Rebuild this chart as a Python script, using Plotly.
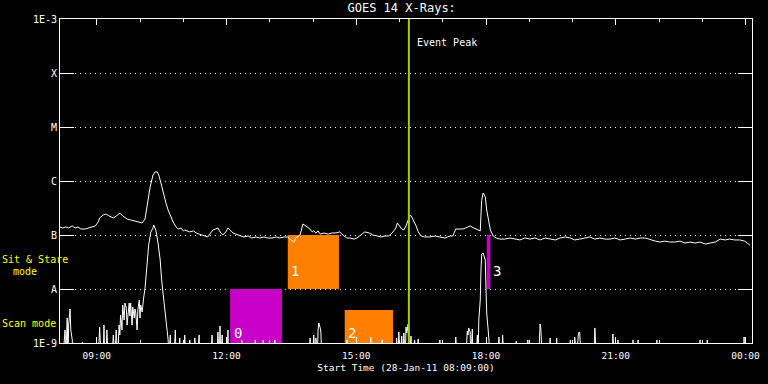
import math
import pandas as pd
import plotly.graph_objects as go

# ---------------- data ----------------
start_time = "2011-01-28 08:09"
end_time = "2011-01-29 00:09"

# GOES long channel (1-8 A), minutes after start, flux in units of 1e-7 W/m^2
long_min = [0, 4, 8, 12, 17, 21, 25, 29, 35, 39, 43, 49, 53, 55, 60, 64, 68, 74, 78, 83,
            87, 93, 98, 104, 108, 114, 118, 121, 125, 129, 132, 135, 137, 140, 143, 147, 150, 154, 157, 161,
            164, 168, 171, 173, 178, 180, 185, 189, 193, 197, 201, 205, 209, 212, 216, 219, 222, 226, 230, 233,
            236, 240, 244, 250, 255, 261, 266, 272, 277, 283, 288, 294, 300, 305, 311, 316, 320, 325, 327, 333,
            337, 341, 345, 350, 352, 355, 358, 361, 366, 372, 377, 383, 388, 394, 398, 402, 408, 412, 418, 423,
            429, 434, 440, 445, 451, 456, 462, 466, 468, 470, 474, 477, 480, 483, 486, 488, 491, 494, 497, 501,
            506, 513, 520, 527, 534, 541, 545, 549, 555, 559, 563, 569, 574, 579, 583, 584, 585, 587, 590, 592,
            595, 597, 601, 605, 610, 617, 624, 631, 638, 645, 652, 659, 666, 673, 680, 687, 694, 701, 708, 714,
            721, 728, 735, 742, 749, 756, 763, 770, 777, 784, 791, 798, 805, 812, 819, 826, 832, 839, 846, 853,
            860, 867, 874, 881, 888, 895, 902, 909, 916, 923, 929, 936, 943, 950, 957]
long_flux_e7 = [1.41, 1.35, 1.41, 1.35, 1.47, 1.35, 1.41, 1.29, 1.29, 1.35, 1.41, 1.47, 1.74, 2.07, 2.35, 2.45, 2.25, 2.07, 2.25, 2.55,
                2.25, 1.98, 1.90, 1.82, 1.74, 1.67, 1.98, 3.9, 7.7, 12.9, 14.7, 14.7, 12.9, 9.2, 6.0, 3.9, 2.9, 2.15, 1.74, 1.41,
                1.29, 1.35, 1.19, 1.24, 1.19, 1.14, 1.19, 1.09, 1.04, 1.00, 0.96, 0.92, 1.09, 1.24, 1.29, 1.35, 1.14, 1.00, 1.14, 1.35,
                1.24, 1.09, 1.04, 0.96, 0.92, 0.96, 0.88, 0.92, 0.88, 0.92, 0.88, 0.88, 0.92, 0.88, 0.92, 0.92, 0.81, 0.74, 0.88, 1.00,
                1.60, 1.47, 1.35, 1.14, 1.19, 1.09, 1.19, 1.04, 1.09, 1.04, 1.09, 1.09, 1.14, 0.96, 0.88, 0.88, 0.84, 0.88, 1.00, 1.14,
                1.09, 1.00, 0.96, 0.92, 0.96, 0.96, 1.14, 1.35, 1.67, 1.53, 1.29, 1.24, 1.47, 1.90, 2.35, 2.15, 1.82, 1.47, 1.14, 0.96,
                0.92, 0.92, 0.96, 0.92, 0.88, 0.96, 0.96, 1.29, 1.29, 1.29, 1.35, 1.47, 1.35, 1.24, 1.19, 2.35, 4.4, 6.0, 5.1, 2.9,
                1.53, 1.24, 0.96, 0.88, 0.84, 0.84, 0.88, 0.84, 0.81, 0.88, 0.84, 0.88, 0.81, 0.88, 0.84, 0.81, 0.88, 0.92, 0.88, 0.81,
                0.84, 0.88, 0.92, 0.84, 0.88, 0.84, 0.84, 0.88, 0.81, 0.84, 0.88, 0.84, 0.88, 0.88, 0.81, 0.77, 0.74, 0.77, 0.74, 0.74,
                0.77, 0.71, 0.74, 0.71, 0.74, 0.68, 0.71, 0.74, 0.84, 0.81, 0.84, 0.81, 0.81, 0.77, 0.65]

# GOES short channel (0.5-4 A), minutes after start, flux in units of 1e-9 W/m^2
short_min = [0, 4, 7, 8, 10, 11, 12, 14, 15, 17, 18, 29, 31, 32, 53, 55, 57, 60, 61, 62,
             64, 65, 67, 72, 74, 75, 76, 78, 79, 80, 82, 83, 84, 86, 87, 89, 90, 92, 93, 94,
             96, 97, 98, 100, 101, 103, 104, 105, 107, 108, 110, 111, 112, 114, 115, 116, 118, 121, 123, 126,
             129, 130, 133, 136, 139, 141, 144, 147, 148, 150, 151, 153, 154, 158, 160, 161, 165, 166, 168, 172,
             173, 175, 179, 180, 182, 186, 187, 189, 191, 193, 194, 209, 211, 212, 218, 219, 221, 222, 223, 225,
             226, 232, 233, 234, 251, 252, 254, 269, 271, 272, 280, 282, 283, 297, 298, 300, 345, 347, 348, 350,
             352, 354, 355, 357, 358, 359, 361, 362, 363, 397, 398, 400, 430, 431, 433, 445, 447, 448, 466, 467,
             469, 470, 472, 474, 476, 477, 479, 480, 481, 483, 484, 487, 488, 492, 494, 497, 498, 526, 527, 528,
             548, 549, 551, 563, 565, 566, 567, 569, 570, 572, 573, 577, 579, 580, 581, 583, 584, 585, 587, 590,
             591, 592, 594, 595, 597, 607, 609, 610, 613, 614, 616, 631, 633, 634, 648, 649, 651, 664, 666, 667,
             669, 678, 680, 681, 688, 689, 691, 706, 708, 709, 713, 714, 716, 717, 719, 720, 721, 723, 741, 742,
             744, 766, 767, 769, 773, 774, 776, 794, 795, 796, 800, 802, 803, 827, 828, 830, 886, 888, 889, 896,
             898, 899, 948, 949, 950, 960]
short_flux_e9 = [0.5, 0.5, 1.74, 0.5, 2.9, 0.5, 2.15, 4.26, 1.74, 1.14, 0.5, 0.5, 1.04, 0.5, 0.5, 1.98, 0.5, 0.5, 2.15, 0.5,
                 0.5, 1.74, 0.5, 0.5, 1.41, 0.5, 0.5, 1.74, 0.5, 0.5, 2.15, 1.41, 3.30, 1.74, 5.05, 2.67, 5.5, 4.45, 2.15, 3.30,
                 5.5, 3.16, 5.5, 2.15, 4.64, 2.9, 4.26, 3.75, 1.74, 4.08, 6.25, 2.9, 5.05, 3.75, 5.5, 6.8, 10.4, 31.6, 65, 113,
                 134, 153, 123, 71, 34.4, 14.7, 6.25, 2.45, 1.90, 1.14, 0.5, 1.41, 0.5, 0.5, 1.74, 0.5, 0.5, 1.24, 0.5, 0.5,
                 1.41, 0.5, 0.5, 1.14, 0.5, 0.5, 1.24, 0.5, 0.5, 1.41, 0.5, 0.5, 1.41, 0.5, 0.5, 1.60, 0.5, 2.07, 0.5, 1.41,
                 0.5, 0.5, 1.74, 0.5, 0.5, 1.14, 0.5, 0.5, 1.14, 0.5, 0.5, 1.14, 0.5, 0.5, 1.14, 0.5, 0.5, 1.24, 0.5, 0.5,
                 1.41, 0.5, 1.24, 0.5, 1.74, 2.35, 1.90, 1.53, 0.5, 0.5, 1.14, 0.5, 0.5, 1.29, 0.5, 0.5, 1.14, 0.5, 0.5, 1.24,
                 0.5, 1.60, 0.5, 1.35, 0.5, 1.53, 0.5, 1.98, 1.53, 2.25, 0.5, 1.35, 0.5, 1.14, 0.5, 1.19, 0.5, 0.5, 1.14, 0.5,
                 0.5, 1.29, 0.5, 0.5, 1.67, 1.41, 1.90, 1.60, 0.5, 1.82, 0.5, 0.5, 1.41, 0.5, 2.67, 6.25, 22.4, 44.5, 46.4, 34.4,
                 9.6, 3.59, 1.74, 1.14, 0.5, 0.5, 1.29, 0.5, 0.5, 1.41, 0.5, 0.5, 1.09, 0.5, 0.5, 1.14, 0.5, 0.5, 2.25, 1.90,
                 0.5, 0.5, 1.24, 0.5, 0.5, 1.24, 0.5, 0.5, 1.14, 0.5, 0.5, 1.29, 0.5, 0.5, 1.41, 1.60, 1.53, 0.5, 0.5, 1.90,
                 0.5, 0.5, 1.47, 0.5, 0.5, 1.14, 0.5, 0.5, 1.14, 0.5, 0.5, 1.14, 0.5, 0.5, 1.14, 0.5, 0.5, 1.14, 0.5, 0.5,
                 1.14, 0.5, 0.5, 1.29, 0.5, 0.5]

# observation blocks
block_labels = ["0", "1", "2", "3"]
block_start = ["2011-01-28 12:05", "2011-01-28 13:25", "2011-01-28 14:44", "2011-01-28 18:01"]
block_end = ["2011-01-28 13:17", "2011-01-28 14:36", "2011-01-28 15:51", "2011-01-28 18:06"]
block_low = [1e-9, 1e-8, 1e-9, 1e-8]
block_high = [1e-8, 1e-7, 4.1e-9, 1e-7]
block_kind = ["scan", "stare", "stare", "scan"]

event_peak = "2011-01-28 16:13"

y_tickvals = [1e-9, 1e-8, 1e-7, 1e-6, 1e-5, 1e-4, 1e-3]
y_ticktext = ["1E-9", "A", "B", "C", "M", "X", "1E-3"]

# ---------------- styling ----------------
FONT = "DejaVu Sans Mono"
kind_color = {"scan": "#C800C8", "stare": "#FF8000"}
label_yshift = {"0": 0, "1": 8, "2": 0, "3": 8}
label_xshift = {"0": 2, "1": 1, "2": 1, "3": 4}

t0 = pd.Timestamp(start_time)
long_t = [t0 + pd.Timedelta(minutes=m) for m in long_min]
short_t = [t0 + pd.Timedelta(minutes=m) for m in short_min]
long_flux = [v * 1e-7 for v in long_flux_e7]
short_flux = [v * 1e-9 for v in short_flux_e9]

fig = go.Figure()

# blocks (drawn first so curves lie on top)
for lab, s, e, lo, hi, k in zip(block_labels, block_start, block_end, block_low, block_high, block_kind):
    fig.add_trace(go.Scatter(
        x=[s, e, e, s, s], y=[lo, lo, hi, hi, lo], mode="lines", fill="toself",
        fillcolor=kind_color[k], line=dict(width=0, color=kind_color[k]),
        hoverinfo="skip", showlegend=False))

fig.add_trace(go.Scatter(x=long_t, y=long_flux, mode="lines",
                         line=dict(color="white", width=1), showlegend=False))
fig.add_trace(go.Scatter(x=short_t, y=short_flux, mode="lines",
                         line=dict(color="white", width=1), showlegend=False))

# event peak line
fig.add_shape(type="line", xref="x", yref="paper", x0=event_peak, x1=event_peak, y0=0, y1=1,
              line=dict(color="#A4D000", width=2), layer="above")

annotations = [
    dict(x=event_peak, y=0.926, xref="x", yref="paper", text="Event Peak", showarrow=False,
         xanchor="left", yanchor="middle", xshift=6, font=dict(color="white", size=10, family=FONT)),
    dict(x=-0.0838, y=0.259, xref="paper", yref="paper", text="Sit & Stare", showarrow=False,
         xanchor="left", yanchor="middle", xshift=-2, font=dict(color="#FFFF00", size=10, family=FONT)),
    dict(x=-0.0679, y=0.222, xref="paper", yref="paper", text="mode", showarrow=False,
         xanchor="left", yanchor="middle", xshift=-2, font=dict(color="#FFFF00", size=10, family=FONT)),
    dict(x=-0.0838, y=0.059, xref="paper", yref="paper", text="Scan mode", showarrow=False,
         xanchor="left", yanchor="middle", xshift=-2, font=dict(color="#FFFF00", size=10, family=FONT)),
]
for lab, s, lo in zip(block_labels, block_start, block_low):
    annotations.append(dict(x=s, y=math.log10(lo), xref="x", yref="y", text=lab, showarrow=False,
                            xanchor="left", yanchor="bottom", xshift=label_xshift[lab],
                            yshift=label_yshift[lab],
                            font=dict(color="white", size=14, family=FONT)))

fig.update_layout(
    width=768, height=384,
    paper_bgcolor="black", plot_bgcolor="black",
    margin=dict(l=60, r=16, t=19, b=41, autoexpand=False),
    font=dict(family=FONT, color="white", size=10),
    title=dict(text="GOES 14 X-Rays:", x=0.523, xanchor="center", y=0.979, yanchor="middle",
               font=dict(color="white", size=12, family=FONT)),
    annotations=annotations,
    showlegend=False,
)

fig.update_xaxes(
    type="date", range=[start_time, end_time], automargin=False,
    tick0="2011-01-28 00:00", dtick=3 * 3600 * 1000, tickformat="%H:%M",
    ticks="inside", ticklen=6, tickcolor="white", tickwidth=1,
    minor=dict(dtick=3600 * 1000, ticks="inside", ticklen=3, tickcolor="white", showgrid=False),
    showline=True, linecolor="white", linewidth=1, mirror="allticks",
    showgrid=False, zeroline=False, ticklabelstandoff=4,
    tickfont=dict(color="white", size=9.5, family=FONT),
    title=dict(text="Start Time (28-Jan-11 08:09:00)", standoff=3,
               font=dict(color="white", size=9.5, family=FONT)),
)
fig.update_yaxes(
    type="log", range=[-9, -3], automargin=False,
    tickvals=y_tickvals, ticktext=y_ticktext,
    ticks="inside", ticklen=14, tickcolor="white", tickwidth=1,
    showline=True, linecolor="white", linewidth=1, mirror="allticks",
    showgrid=True, gridcolor="white", gridwidth=1, griddash="1px,4px",
    zeroline=False,
    tickfont=dict(color="white", size=10, family=FONT),
)

fig.write_html(
    "out.html",
    config={"displayModeBar": False},
    post_script="document.body.style.margin='0';document.body.style.background='black';",
)
